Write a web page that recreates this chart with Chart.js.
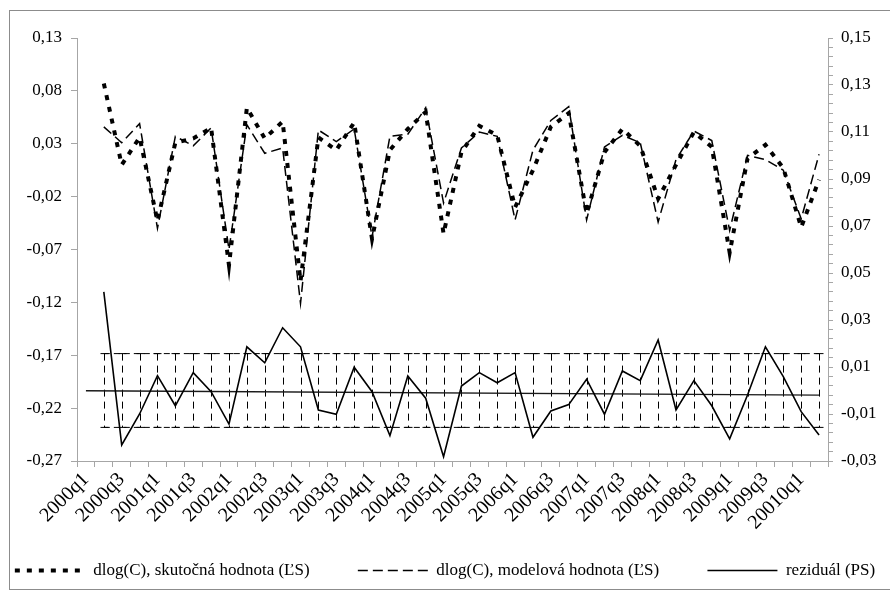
<!DOCTYPE html>
<html>
<head>
<meta charset="utf-8">
<script src="https://cdn.jsdelivr.net/npm/chart.js@4.4.1/dist/chart.umd.min.js"></script>
<style>
  html, body { margin: 0; padding: 0; background: #fff; }
  #wrap { position: relative; width: 890px; height: 600px; }
  #frame { position: absolute; left: 9px; top: 10px; width: 900px; height: 580px;
           border: 1px solid #8c8c8c; box-sizing: border-box; pointer-events: none; }
</style>
</head>
<body>
<div id="wrap">
  <canvas id="chart" width="890" height="600"></canvas>
  <div id="frame"></div>
</div>
<script>
  // quarters, labels as printed in the source chart (incl. its "20010" typo)
  var categories = [
    '2000q1', '2000q2', '2000q3', '2000q4', '2001q1', '2001q2', '2001q3', '2001q4',
    '2002q1', '2002q2', '2002q3', '2002q4', '2003q1', '2003q2', '2003q3', '2003q4',
    '2004q1', '2004q2', '2004q3', '2004q4', '2005q1', '2005q2', '2005q3', '2005q4',
    '2006q1', '2006q2', '2006q3', '2006q4', '2007q1', '2007q2', '2007q3', '2007q4',
    '2008q1', '2008q2', '2008q3', '2008q4', '2009q1', '2009q2', '2009q3', '2009q4',
    '20010q1', '20010q2'
  ];

  // dlog(C), actual value (left axis)
  var actual = [null,
    0.087, 0.010, 0.036, -0.043, 0.031, 0.035, 0.045, -0.085, 0.064, 0.035,
    0.051, -0.100, 0.036, 0.024, 0.050, -0.060, 0.024, 0.044, 0.060, -0.055,
    0.022, 0.047, 0.038, -0.030, 0.005, 0.046, 0.059, -0.036, 0.022, 0.044,
    0.028, -0.022, 0.010, 0.041, 0.027, -0.073, 0.016, 0.029, 0.007, -0.049,
    -0.004];

  // dlog(C), model value (left axis)
  var model = [null,
    0.046, 0.031, 0.049, -0.050, 0.037, 0.028, 0.045, -0.070, 0.048, 0.021,
    0.026, -0.121, 0.043, 0.032, 0.044, -0.058, 0.037, 0.039, 0.064, -0.026,
    0.026, 0.041, 0.037, -0.042, 0.024, 0.052, 0.065, -0.042, 0.027, 0.038,
    0.031, -0.044, 0.015, 0.042, 0.033, -0.052, 0.019, 0.015, 0.005, -0.041,
    0.020];

  // residual (right axis)
  var residual = [null,
    0.0420, -0.0232, -0.0100, 0.0063, -0.0065, 0.0076, -0.0005, -0.0143, 0.0186, 0.0118,
    0.0267, 0.0186, -0.0083, -0.0101, 0.0099, -0.0005, -0.0192, 0.0062, -0.0033, -0.0282,
    0.0019, 0.0076, 0.0033, 0.0076, -0.0199, -0.0087, -0.0060, 0.0048, -0.0101, 0.0083,
    0.0042, 0.0215, -0.0083, 0.0042, -0.0065, -0.0206, -0.0019, 0.0186, 0.0059, -0.0090,
    -0.0189];

  // residual trend line end points and the +/- band (right axis)
  var trendStart = -0.0001;
  var trendEnd = -0.0020;
  var bandUpper = 0.0157;
  var bandLower = -0.0157;

  var leftTicks = { min: -0.27, max: 0.13, step: 0.05 };
  var rightTicks = { min: -0.03, max: 0.15, step: 0.004, labelEvery: 5 };

  var FONT = "'Liberation Serif', 'Times New Roman', serif";
  var AXIS_GREY = '#a6a6a6';
  var LEGEND_GAP = '         '; // spreads the legend entries across the width

  function fmt(v) {
    return v.toFixed(2).replace('.', ',');
  }

  // vertical dashed bars with caps between the band lines
  var bandBars = {
    id: 'bandBars',
    beforeDatasetsDraw: function (chart) {
      var ctx = chart.ctx;
      var xs = chart.scales.x, ys = chart.scales.y1;
      var yTop = ys.getPixelForValue(bandUpper);
      var yBot = ys.getPixelForValue(bandLower);
      ctx.save();
      ctx.strokeStyle = '#000';
      ctx.lineWidth = 1;
      residual.forEach(function (v, i) {
        if (v === null) return;
        var x = Math.round(xs.getPixelForValue(i)) + 0.5;
        ctx.setLineDash([7, 5]);
        ctx.beginPath();
        ctx.moveTo(x, yTop);
        ctx.lineTo(x, yBot);
        ctx.stroke();
        ctx.setLineDash([]);
        ctx.beginPath();
        ctx.moveTo(x - 4, yTop); ctx.lineTo(x + 4, yTop);
        ctx.moveTo(x - 4, yBot); ctx.lineTo(x + 4, yBot);
        ctx.stroke();
      });
      ctx.restore();
    }
  };

  var bandTop = residual.map(function (v) { return v === null ? null : bandUpper; });
  var bandBottom = residual.map(function (v) { return v === null ? null : bandLower; });

  new Chart(document.getElementById('chart'), {
    type: 'line',
    data: {
      labels: categories,
      datasets: [
        {
          label: 'dlog(C), skutočná hodnota (ĽS)',
          data: actual,
          yAxisID: 'y',
          borderColor: '#000',
          borderWidth: 4,
          borderDash: [5, 7],
          pointRadius: 0,
          tension: 0
        },
        {
          label: 'dlog(C), modelová hodnota (ĽS)',
          data: model,
          yAxisID: 'y',
          borderColor: '#000',
          borderWidth: 1.5,
          borderDash: [10, 5],
          pointRadius: 0,
          tension: 0
        },
        {
          label: 'reziduál (PS)',
          data: residual,
          yAxisID: 'y1',
          borderColor: '#000',
          borderWidth: 1.6,
          pointRadius: 0,
          tension: 0
        },
        {
          label: 'trend',
          data: [{ x: categories[0], y: trendStart }, { x: categories[categories.length - 1], y: trendEnd }],
          yAxisID: 'y1',
          borderColor: '#1a1a1a',
          borderWidth: 1.3,
          pointRadius: 0
        },
        {
          label: 'band+',
          data: bandTop,
          yAxisID: 'y1',
          borderColor: '#000',
          borderWidth: 1,
          borderDash: [6, 4],
          pointRadius: 0
        },
        {
          label: 'band-',
          data: bandBottom,
          yAxisID: 'y1',
          borderColor: '#000',
          borderWidth: 1,
          borderDash: [6, 4],
          pointRadius: 0
        }
      ]
    },
    plugins: [bandBars],
    options: {
      responsive: false,
      animation: false,
      layout: { padding: { top: 38, left: 0, right: 0, bottom: 11 } },
      plugins: {
        tooltip: { enabled: false },
        legend: {
          position: 'bottom',
          labels: {
            font: { family: FONT, size: 17 },
            color: '#000',
            padding: 10,
            usePointStyle: true,
            pointStyleWidth: 70,
            boxHeight: 6,
            filter: function (item) { return item.datasetIndex < 3; },
            generateLabels: function (chart) {
              return chart.data.datasets.map(function (ds, i) {
                return {
                  text: i < 2 ? ds.label + LEGEND_GAP : ds.label,
                  datasetIndex: i,
                  pointStyle: 'line',
                  fillStyle: '#000',
                  strokeStyle: '#000',
                  lineWidth: ds.borderWidth,
                  lineDash: ds.borderDash || [],
                  hidden: false
                };
              });
            }
          }
        }
      },
      scales: {
        x: {
          type: 'category',
          offset: true,
          afterFit: function (s) { s.height = 91; },
          border: { color: AXIS_GREY, width: 1 },
          grid: { offset: true, drawOnChartArea: false, drawTicks: true, tickLength: 6, color: AXIS_GREY },
          ticks: {
            autoSkip: false,
            minRotation: 45,
            maxRotation: 45,
            padding: 1,
            color: '#000',
            font: { family: FONT, size: 20 },
            callback: function (val, idx) { return idx % 2 === 0 ? categories[idx] : ''; }
          }
        },
        y: {
          position: 'left',
          min: leftTicks.min,
          max: leftTicks.max,
          afterFit: function (s) { s.width = 77; },
          border: { color: AXIS_GREY, width: 1 },
          grid: { drawOnChartArea: false, drawTicks: true, tickLength: 6, color: AXIS_GREY },
          ticks: {
            stepSize: leftTicks.step,
            autoSkip: false,
            padding: 9,
            color: '#000',
            font: { family: FONT, size: 17 },
            callback: function (v) { return fmt(v); }
          }
        },
        y1: {
          position: 'right',
          min: rightTicks.min,
          max: rightTicks.max,
          afterFit: function (s) { s.width = 62; },
          border: { color: AXIS_GREY, width: 1 },
          grid: { drawOnChartArea: false, drawTicks: true, tickLength: 5, color: AXIS_GREY },
          ticks: {
            stepSize: rightTicks.step,
            autoSkip: false,
            padding: 8,
            color: '#000',
            font: { family: FONT, size: 17 },
            callback: function (v, idx) { return idx % rightTicks.labelEvery === 0 ? fmt(v) : ''; }
          }
        }
      }
    }
  });
</script>
</body>
</html>
